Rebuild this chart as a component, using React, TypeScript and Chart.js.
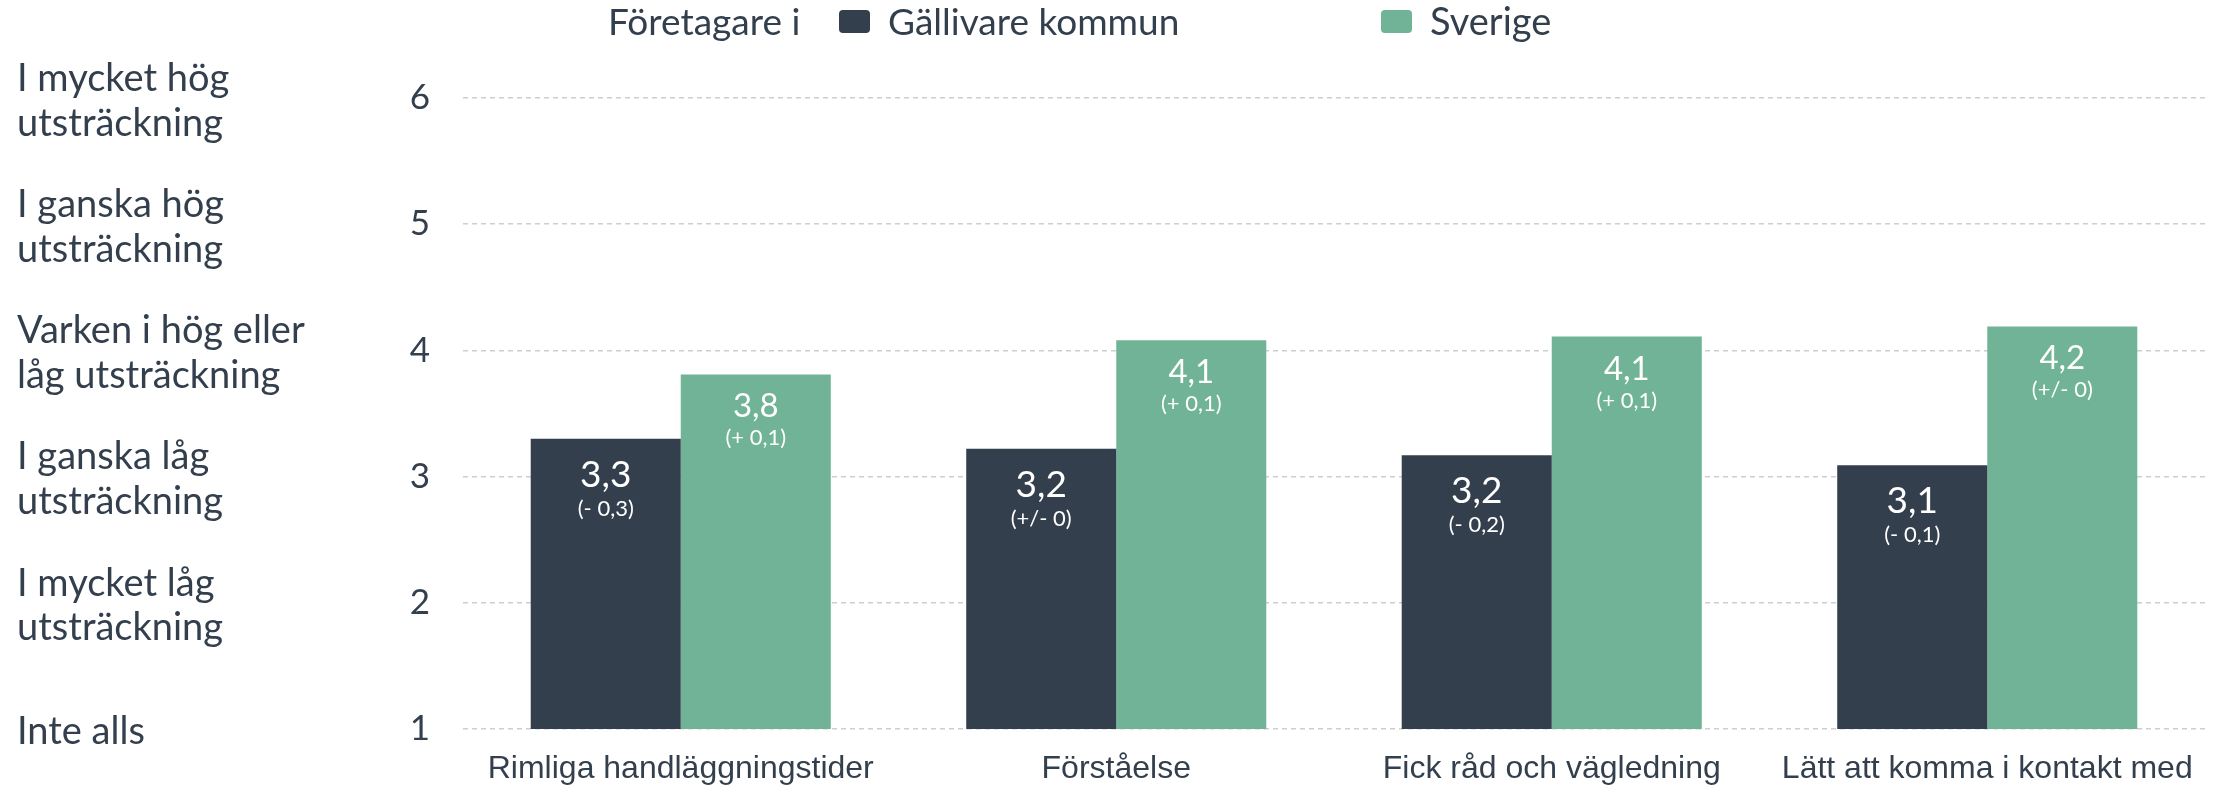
import React, { useEffect, useRef } from "react";
import { Chart, registerables } from "chart.js";

Chart.register(...registerables);

// ---- Data ----
const categories = [
  "Rimliga handläggningstider",
  "Förståelse",
  "Fick råd och vägledning",
  "Lätt att komma i kontakt med",
];
const gallivareValues = [3.3, 3.22, 3.17, 3.09];
const sverigeValues = [3.81, 4.08, 4.11, 4.19];
const gallivareChange = ["(- 0,3)", "(+/- 0)", "(- 0,2)", "(- 0,1)"];
const sverigeChange = ["(+ 0,1)", "(+ 0,1)", "(+ 0,1)", "(+/- 0)"];
const scaleValues = [1, 2, 3, 4, 5, 6];
const scaleLabels = [
  ["Inte alls"],
  ["I mycket låg", "utsträckning"],
  ["I ganska låg", "utsträckning"],
  ["Varken i hög eller", "låg utsträckning"],
  ["I ganska hög", "utsträckning"],
  ["I mycket hög", "utsträckning"],
];
const legendPrefix = "Företagare i";
const seriesNames = ["Gällivare kommun", "Sverige"];

// ---- Styles ----
const DARK = "#333f4d";
const GREEN = "#70b396";
const TEXT = "#333f4d";
const GRID = "#cbced2";
const GEO = "Lato, 'Noto Sans', sans-serif";
const ARIAL = "'Liberation Sans', Arial, sans-serif";

const fmt = (v: number) => v.toFixed(1).replace(".", ",");

const overlayPlugin = {
  id: "overlay",
  afterDatasetsDraw(chart: any) {
    const ctx = chart.ctx;
    ctx.save();
    ctx.fillStyle = "#ffffff";
    ctx.textAlign = "center";
    ctx.textBaseline = "alphabetic";
    const specs = [
      { values: gallivareValues, changes: gallivareChange, vSize: 37, vOff: 48, cOff: 77 },
      { values: sverigeValues, changes: sverigeChange, vSize: 33, vOff: 43, cOff: 71 },
    ];
    specs.forEach((s, d) => {
      chart.getDatasetMeta(d).data.forEach((el: any, i: number) => {
        const x = el.x;
        const top = el.y;
        ctx.font = `${s.vSize}px ${GEO}`;
        ctx.fillText(fmt(s.values[i]), x, top + s.vOff);
        ctx.font = `22px ${GEO}`;
        ctx.fillText(s.changes[i], x, top + s.cOff);
      });
    });
    ctx.restore();
  },
  afterDraw(chart: any) {
    const ctx = chart.ctx;
    ctx.save();
    ctx.font = `37px ${GEO}`;
    ctx.fillStyle = TEXT;
    ctx.textAlign = "left";
    ctx.textBaseline = "alphabetic";
    const base = 35;
    ctx.fillText(legendPrefix, 608, base);
    const items = [
      { x: 839, color: DARK, label: seriesNames[0] },
      { x: 1381, color: GREEN, label: seriesNames[1] },
    ];
    items.forEach((it) => {
      ctx.fillStyle = it.color;
      ctx.beginPath();
      ctx.roundRect(it.x, 10, 31, 23, 4);
      ctx.fill();
      ctx.fillStyle = TEXT;
      ctx.font = it.label === seriesNames[1] ? `38px ${GEO}` : `37px ${GEO}`;
      ctx.fillText(it.label, it.x + 49, base);
    });
    ctx.restore();
  },
};

export default function App() {
  const ref = useRef<HTMLCanvasElement | null>(null);

  useEffect(() => {
    if (!ref.current) return;
    const chart = new Chart(ref.current, {
      type: "bar",
      data: {
        labels: categories,
        datasets: [
          {
            label: seriesNames[0],
            data: gallivareValues,
            backgroundColor: DARK,
            yAxisID: "y",
            barPercentage: 1,
            categoryPercentage: 0.689,
          },
          {
            label: seriesNames[1],
            data: sverigeValues,
            backgroundColor: GREEN,
            yAxisID: "y",
            barPercentage: 1,
            categoryPercentage: 0.689,
          },
        ],
      },
      options: {
        animation: false,
        responsive: false,
        devicePixelRatio: 1,
        layout: { padding: { left: 17, top: 98, right: 14, bottom: 6 } },
        plugins: {
          legend: { display: false },
          tooltip: { enabled: false },
        },
        scales: {
          x: {
            grid: { display: false, drawTicks: false },
            border: { display: false },
            ticks: {
              color: TEXT,
              font: { family: ARIAL, size: 32 },
              padding: 21,
              maxRotation: 0,
              autoSkip: false,
            },
            afterFit(scale: any) {
              scale.height = 60;
            },
          },
          y: {
            position: "left",
            weight: 0,
            min: 1,
            max: 6,
            border: { display: false, dash: [5, 4] },
            grid: {
              color: GRID,
              lineWidth: 1.5,
              drawTicks: false,
            },
            ticks: {
              stepSize: 1,
              color: TEXT,
              font: { family: GEO, size: 35 },
              padding: 33,
            },
            afterFit(scale: any) {
              scale.width = 100;
            },
          },
          yText: {
            position: "left",
            weight: 10,
            min: 1,
            max: 6,
            border: { display: false },
            grid: { display: false, drawTicks: false },
            ticks: {
              stepSize: 1,
              autoSkip: false,
              color: TEXT,
              crossAlign: "far",
              padding: 0,
              labelOffset: 3,
              font: { family: GEO, size: 38, lineHeight: 1.18 },
              callback: (v: any) => {
                const idx = scaleValues.indexOf(Number(v));
                return idx >= 0 ? scaleLabels[idx] : "";
              },
            },
            afterFit(scale: any) {
              scale.width = 346;
            },
          },
        },
      } as any,
      plugins: [overlayPlugin],
    });
    return () => chart.destroy();
  }, []);

  return (
    <div style={{ position: "fixed", left: 0, top: 0, width: 2219, height: 795, background: "#fff" }}>
      <canvas ref={ref} width={2219} height={795} style={{ display: "block" }} />
    </div>
  );
}
